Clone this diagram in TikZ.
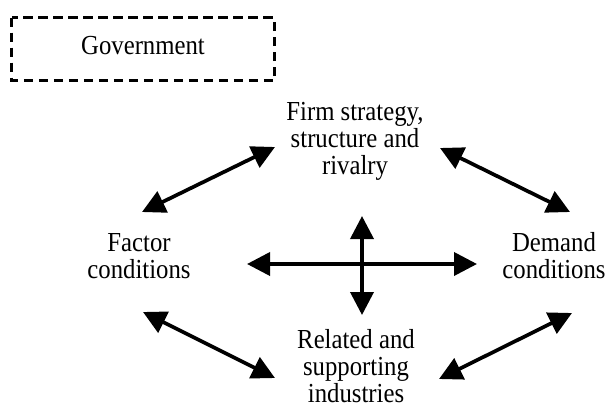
\documentclass[tikz,border=0pt]{standalone}
\usepackage{fontspec}
\setmainfont{Liberation Serif}[FakeStretch=0.9]
\usetikzlibrary{arrows.meta}
\tikzset{
  lbl/.style={inner sep=0pt, anchor=base, font=\fontsize{27.5}{27}\selectfont},
  dbl/.style={line width=3.7pt, {Triangle[length=23pt,width=23pt]}-{Triangle[length=23pt,width=23pt]}},
  govbox/.style={line width=3.3pt, dash pattern=on 9.5pt off 5.5pt}
}
\newcommand{\stk}[1]{\begin{tabular}[t]{@{}c@{}}#1\end{tabular}}
\begin{document}
\begin{tikzpicture}[x=1pt,y=-1pt]
\useasboundingbox (0,0) rectangle (607,408);
\draw[govbox] (11.6,17.6) rectangle (274.4,80.4);
\node[lbl] (gov) at (143,54) {Government};
\node[lbl] (firm) at (355,120) {\stk{Firm strategy,\\structure and\\rivalry}};
\node[lbl] (factor) at (139,251) {\stk{Factor\\conditions}};
\node[lbl] (demand) at (554,251) {\stk{Demand\\conditions}};
\node[lbl] (related) at (356,348) {\stk{Related and\\supporting\\industries}};
\coordinate (a1s) at (142,212); \coordinate (a1e) at (275,147);
\coordinate (a2s) at (440,148); \coordinate (a2e) at (570,212);
\coordinate (a3s) at (247,264); \coordinate (a3e) at (477,264);
\coordinate (a4s) at (362,216); \coordinate (a4e) at (362,315);
\coordinate (a5s) at (143,312); \coordinate (a5e) at (275,378);
\coordinate (a6s) at (439,379); \coordinate (a6e) at (572,313);
\draw[dbl] (a1s) -- (a1e);
\draw[dbl] (a2s) -- (a2e);
\draw[dbl] (a3s) -- (a3e);
\draw[dbl] (a4s) -- (a4e);
\draw[dbl] (a5s) -- (a5e);
\draw[dbl] (a6s) -- (a6e);
\end{tikzpicture}
\end{document}
